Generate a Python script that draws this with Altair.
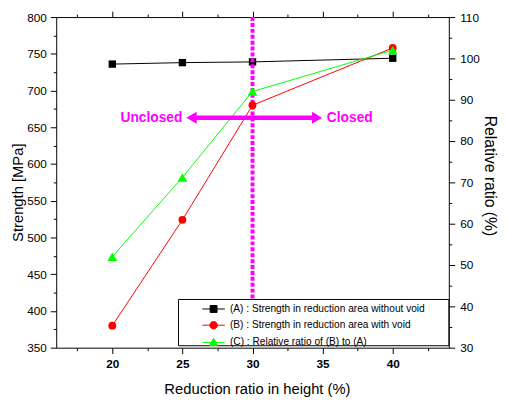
import altair as alt
import pandas as pd

# ---- data ----
reduction = [20, 25, 30, 40]
strength_a = [736, 738, 739, 744]      # (A) without void, MPa
strength_b = [380, 524, 680, 758]      # (B) with void, MPa
ratio_c = [52, 71.2, 92, 102]          # (C) relative ratio, %

series_names = [
    "(A) : Strength in reduction area without void",
    "(B) : Strength in reduction area with void",
    "(C) : Relative ratio of (B) to (A)",
]
series_colors = ["#000000", "#FF0000", "#00FF00"]

x_ticks = [17.5, 20, 22.5, 25, 27.5, 30, 32.5, 35, 37.5, 40, 42.5]
left_ticks = list(range(350, 801, 25))
right_ticks = list(range(30, 111, 5))

boundary_x = 30
arrow_x = [25.65, 34.6]
arrow_y = 663
label_unclosed_x = 25.0
label_closed_x = 35.3

FONT = "Liberation Sans, Arial, sans-serif"
MAG = "#FF00FF"

X_DOM = [16, 44]
YL_DOM = [350, 800]
YR_DOM = [30, 110]

df_a = pd.DataFrame({"x": reduction, "y": strength_a})
df_b = pd.DataFrame({"x": reduction, "y": strength_b})
df_c = pd.DataFrame({"x": reduction, "y": ratio_c})
one = alt.Data(values=[{}])

xs = alt.Scale(domain=X_DOM, nice=False, zero=False)
yls = alt.Scale(domain=YL_DOM, nice=False, zero=False)
yrs = alt.Scale(domain=YR_DOM, nice=False, zero=False)

x_bottom = alt.Axis(
    orient="bottom", values=x_ticks, title="Reduction ratio in height (%)",
    labelExpr="datum.value % 5 === 0 ? datum.label : ''",
    tickSize={"condition": {"test": "datum.value % 5 === 0", "value": 6}, "value": 3},
    labelFontWeight="bold", labelFontSize=12, labelPadding=5,
    titleFontSize=15, titleBaseline="alphabetic", titleY=47, titleX=204,
)
x_top = alt.Axis(
    orient="top", values=x_ticks, labels=False, title=None,
    tickSize={"condition": {"test": "datum.value % 5 === 0", "value": 6}, "value": 3},
)
y_left = alt.Axis(
    orient="left", values=left_ticks, title="Strength [MPa]",
    labelExpr="datum.value % 50 === 0 ? datum.label : ''",
    tickSize={"condition": {"test": "datum.value % 50 === 0", "value": 6}, "value": 3},
    labelFontSize=12, labelPadding=4,
    titleFontSize=15, titleX=-34.5, titleY=178, titleBaseline="alphabetic", titleAngle=270,
)
y_right = alt.Axis(
    orient="right", values=right_ticks, title="Relative ratio (%)",
    labelExpr="datum.value % 10 === 0 ? datum.label : ''",
    tickSize={"condition": {"test": "datum.value % 10 === 0", "value": 6}, "value": 3},
    labelFontSize=12, labelPadding=5,
    titleFontSize=16, titleX=36, titleY=161, titleBaseline="alphabetic", titleAngle=90,
)

# (A) line + squares, carries bottom axis and left axis
line_a = alt.Chart(df_a).mark_line(color="black", strokeWidth=1).encode(
    x=alt.X("x:Q", scale=xs, axis=x_bottom),
    y=alt.Y("y:Q", scale=yls, axis=y_left),
)
pt_a = alt.Chart(df_a).mark_point(filled=True, shape="square", size=56, color="black", opacity=1).encode(
    x=alt.X("x:Q", scale=xs, axis=x_top),
    y=alt.Y("y:Q", scale=yls, axis=None),
)

vline = alt.Chart(one).mark_rule(color=MAG, strokeWidth=4, strokeDash=[4, 2]).encode(
    x=alt.X(datum=boundary_x, scale=xs, axis=None),
)

legend_box = alt.Chart(one).mark_rect(fill="white", stroke="black", strokeWidth=1).encode(
    x=alt.value(124.3), x2=alt.value(399), y=alt.value(287), y2=alt.value(334),
)

line_b = alt.Chart(df_b).mark_line(color="#FF0000", strokeWidth=1).encode(
    x=alt.X("x:Q", scale=xs, axis=None),
    y=alt.Y("y:Q", scale=yls, axis=None),
)
pt_b = alt.Chart(df_b).mark_point(filled=True, shape="circle", size=64, color="#FF0000", opacity=1).encode(
    x=alt.X("x:Q", scale=xs, axis=None),
    y=alt.Y("y:Q", scale=yls, axis=None),
)

line_c = alt.Chart(df_c).mark_line(color="#00FF00", strokeWidth=1).encode(
    x=alt.X("x:Q", scale=xs, axis=None),
    y=alt.Y("y:Q", scale=yrs, axis=y_right),
)
pt_c = alt.Chart(df_c).mark_point(filled=True, shape="triangle-up", size=100, color="#00FF00", opacity=1).encode(
    x=alt.X("x:Q", scale=xs, axis=None),
    y=alt.Y("y:Q", scale=yrs, axis=None),
)

arrow_shaft = alt.Chart(one).mark_rule(color=MAG, strokeWidth=4.5).encode(
    x=alt.X(datum=arrow_x[0], scale=xs, axis=None),
    x2=alt.X2(datum=arrow_x[1]),
    y=alt.Y(datum=arrow_y, scale=yls, axis=None),
)
head_l = alt.Chart(one).mark_point(filled=True, shape="triangle-left", size=144, color=MAG, opacity=1).encode(
    x=alt.X(datum=arrow_x[0], scale=xs, axis=None),
    y=alt.Y(datum=arrow_y, scale=yls, axis=None),
)
head_r = alt.Chart(one).mark_point(filled=True, shape="triangle-right", size=144, color=MAG, opacity=1).encode(
    x=alt.X(datum=arrow_x[1], scale=xs, axis=None),
    y=alt.Y(datum=arrow_y, scale=yls, axis=None),
)
txt_unclosed = alt.Chart(one).mark_text(
    color=MAG, font=FONT, fontSize=14, fontWeight="bold", align="right", baseline="middle"
).encode(
    x=alt.X(datum=label_unclosed_x, scale=xs, axis=None),
    y=alt.Y(datum=arrow_y, scale=yls, axis=None),
    text=alt.value("Unclosed"),
)
txt_closed = alt.Chart(one).mark_text(
    color=MAG, font=FONT, fontSize=14, fontWeight="bold", align="left", baseline="middle"
).encode(
    x=alt.X(datum=label_closed_x, scale=xs, axis=None),
    y=alt.Y(datum=arrow_y, scale=yls, axis=None),
    text=alt.value("Closed"),
)

# legend (line segment + marker symbols)
legend_paths = [
    "M-2.85,0H2.85M-0.875,-0.875H0.875V0.875H-0.875Z",
    "M-2.85,0H2.85M0.95,0A0.95,0.95,0,1,1,-0.95,0A0.95,0.95,0,1,1,0.95,0Z",
    "M-2.85,0H2.85M0,-1.05L1.05,0.8H-1.05Z",
]
leg = alt.Legend(
    title=None, orient="none", legendX=154.8, legendY=291.5, padding=0,
    symbolSize=64, symbolStrokeWidth=1, symbolOpacity=1, labelOffset=11.5,
    labelFont=FONT, labelFontSize=10.3, labelColor="black", labelLimit=400,
    rowPadding=4.5,
)
df_leg = pd.DataFrame({"s": series_names})
legend_layer = alt.Chart(df_leg).mark_point(filled=True, opacity=0).encode(
    fill=alt.Fill("s:N", scale=alt.Scale(domain=series_names, range=series_colors), legend=leg),
    stroke=alt.Stroke("s:N", scale=alt.Scale(domain=series_names, range=series_colors), legend=leg),
    shape=alt.Shape("s:N", scale=alt.Scale(domain=series_names, range=legend_paths), legend=leg),
    x=alt.value(-1000), y=alt.value(-1000),
)

chart = alt.layer(
    line_a, pt_a, vline, legend_box, line_b, pt_b, line_c, pt_c,
    arrow_shaft, head_l, head_r, txt_unclosed, txt_closed, legend_layer,
).resolve_scale(y="independent").resolve_axis(x="independent").properties(
    width=399, height=336,
    autosize=alt.AutoSizeParams(type="none"),
    padding={"left": 49, "top": 6, "right": 51, "bottom": 54},
).configure_view(stroke=None).configure_axis(
    domainColor="black", tickColor="black", labelColor="black", titleColor="black",
    labelFont=FONT, titleFont=FONT, titleFontWeight="normal", grid=False,
    domainWidth=1, tickWidth=1,
)

chart.save("out.html", embed_options={"renderer": "svg", "actions": False})
